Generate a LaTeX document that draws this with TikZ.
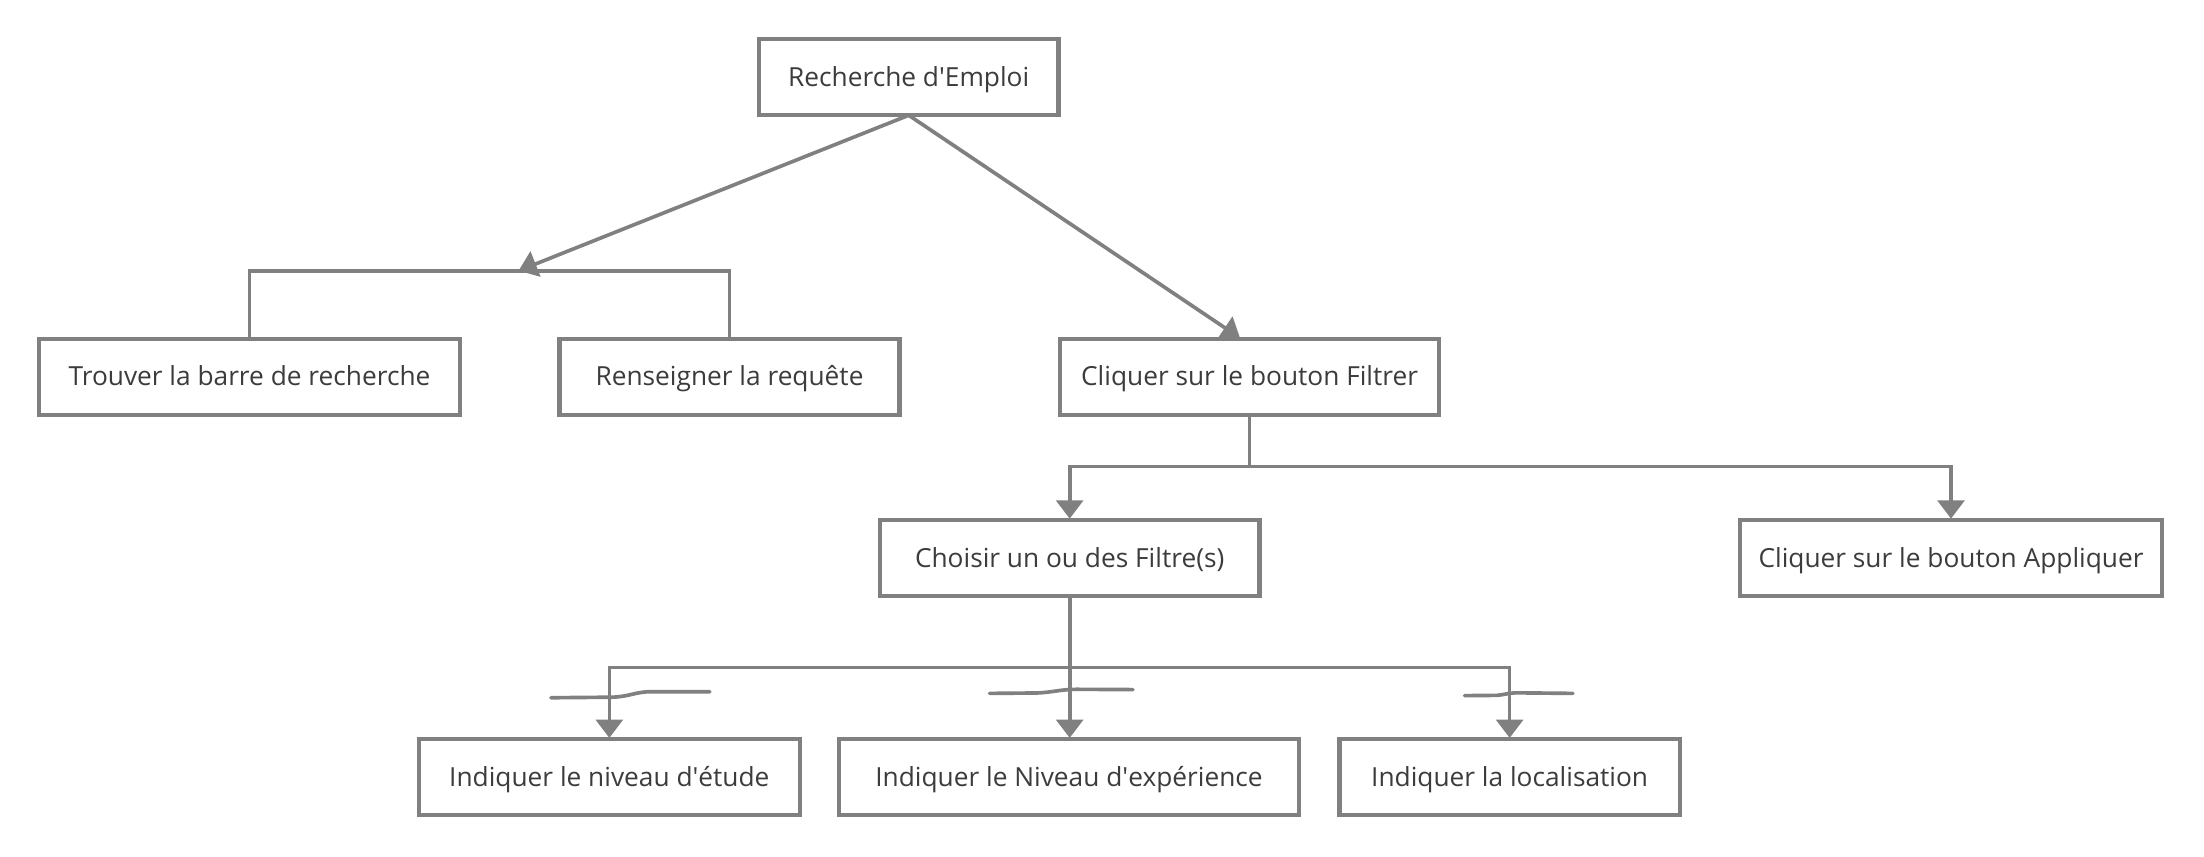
\documentclass[tikz,border=0pt]{standalone}
\usepackage{fontspec}
\setmainfont{Open Sans}
\usetikzlibrary{arrows.meta}
\definecolor{lin}{HTML}{808080}
\definecolor{txt}{HTML}{3C3C3C}
\tikzset{
  box/.style={draw=lin, line width=3pt, fill=white, anchor=north west, minimum height=54pt,
    inner sep=0pt, outer sep=0pt, text=txt, font=\fontsize{18.7}{22}\selectfont,
    text height=17.5pt, text depth=4.5pt},
  conn/.style={draw=lin, line width=2.6pt},
  arr/.style={conn, -{Triangle[width=19pt,length=13pt]}, shorten >=1pt},
  squig/.style={draw=lin, line width=2.6pt, line cap=round},
}
\begin{document}
\begin{tikzpicture}[x=1pt,y=-1pt]
\useasboundingbox[fill=white] (0,0) rectangle (1568,609);
\node[box, minimum width=213pt] (rech) at (540,28) {Recherche d\textquotesingle Emploi};
\node[box, minimum width=299pt] (trouv) at (28,241) {Trouver la barre de recherche};
\node[box, minimum width=242pt] (rens) at (398,241) {Renseigner la requête};
\node[box, minimum width=270pt] (filt) at (754,241) {Cliquer sur le bouton Filtrer};
\node[box, minimum width=270pt] (chois) at (626,370) {Choisir un ou des Filtre(s)};
\node[box, minimum width=300pt] (appl) at (1238,370) {Cliquer sur le bouton Appliquer};
\node[box, minimum width=271pt] (etude) at (298,526) {Indiquer le niveau d\textquotesingle étude};
\node[box, minimum width=327pt] (exper) at (597,526) {Indiquer le Niveau d\textquotesingle expérience};
\node[box, minimum width=242pt] (local) at (953,526) {Indiquer la localisation};

\coordinate (bar1) at (368,193);
\draw[conn] (trouv.north) |- (rens.north |- bar1) -- (rens.north);
\draw[arr] (rech.south) -- (bar1);
\draw[arr] (rech.south) -- ([xshift=-6pt]filt.north);

\coordinate (b2) at (filt.south |- 0,332);
\draw[conn] (filt.south) -- (b2);
\draw[arr] (b2) -| (chois.north);
\draw[arr] (b2) -| (appl.north);

\coordinate (b3) at (chois.south |- 0,475);
\draw[conn] (chois.south) -- (b3);
\draw[arr] (b3) -| (etude.north);
\draw[arr] (b3) -- (b3 |- exper.north);
\draw[arr] (b3) -| (local.north);

\draw[squig] (392,496.4) -- (436,496) .. controls (448,495.5) and (452,492.2) .. (463,492.1) -- (505,492.1);
\draw[squig] (704,493.3) -- (738,493) .. controls (750,492.4) and (754,490.5) .. (766,490.4) -- (806,490.6);
\draw[squig] (1042,494.9) -- (1065,494.7) .. controls (1070,494.3) and (1073,493) .. (1079,492.9) -- (1119,493.3);
\end{tikzpicture}
\end{document}
